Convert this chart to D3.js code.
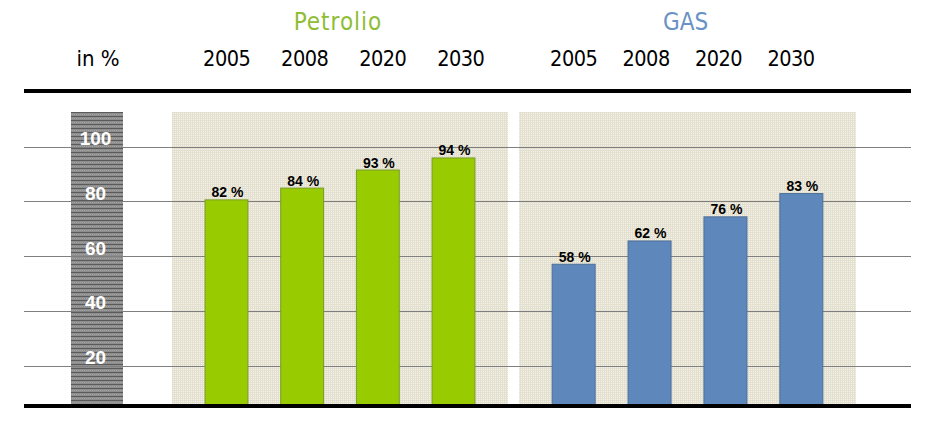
<!DOCTYPE html>
<html>
<head>
<meta charset="utf-8">
<script src="https://cdn.jsdelivr.net/npm/d3@7"></script>
<style>
  html, body { margin: 0; padding: 0; background: #fff; }
  svg { display: block; }
</style>
</head>
<body>
<svg id="chart" width="937" height="421"></svg>
<script>
// ---- data ----
const categories = ["2005", "2008", "2020", "2030"];
const groups = ["Petrolio", "GAS"];
// printed percentages
const petrolioLabels = [82, 84, 93, 94];
const gasLabels = [58, 62, 76, 83];
// bar heights as drawn against the axis
const petrolioBars = [80.7, 85, 91.6, 96];
const gasBars = [57.2, 65.7, 74.5, 83];
const yTicks = [20, 40, 60, 80, 100];
const axisTitle = "in %";

// ---- layout ----
const W = 937, H = 421;
const ruleX = [24, 911];
const plotTop = 112, plotBottom = 404;
const axisCol = [71, 123];
const panels = {
  Petrolio: { x: [172, 508], color: "#99cc00", stroke: "#789a2a", title: "#8fbd34", head: [226.7, 460.8] },
  GAS:      { x: [519, 856], color: "#5e88bc", stroke: "#4c6f98", title: "#6892c4", head: [573.7, 791] }
};
const seriesBars = { Petrolio: petrolioBars, GAS: gasBars };
const seriesLabels = { Petrolio: petrolioLabels, GAS: gasLabels };

const svg = d3.select("#chart");
const defs = svg.append("defs");

// panel texture: fine light grid
const pp = defs.append("pattern").attr("id", "panelPat")
  .attr("patternUnits", "userSpaceOnUse").attr("width", 2).attr("height", 2);
pp.append("rect").attr("width", 2).attr("height", 2).attr("fill", "#f4f2e9");
pp.append("rect").attr("x", 0).attr("y", 0).attr("width", 2).attr("height", 1).attr("fill", "#e3e0cf");
pp.append("rect").attr("x", 0).attr("y", 0).attr("width", 1).attr("height", 2).attr("fill", "#e3e0cf");

// axis column texture: grey with dark horizontal stripes
const ap = defs.append("pattern").attr("id", "axisPat")
  .attr("patternUnits", "userSpaceOnUse").attr("width", 2).attr("height", 4);
ap.append("rect").attr("width", 2).attr("height", 4).attr("fill", "#8e8e8e");
ap.append("rect").attr("y", 0).attr("width", 2).attr("height", 1).attr("fill", "#5a5a5a");
ap.append("rect").attr("x", 0).attr("y", 2).attr("width", 1).attr("height", 1).attr("fill", "#a2a2a2");

// y scale: gridlines 20..100, baseline slightly above zero
const y = d3.scaleLinear().domain([6, 100]).range([plotBottom, 146.5]);

// panels
groups.forEach(g => {
  const p = panels[g];
  svg.append("rect")
    .attr("x", p.x[0]).attr("y", plotTop)
    .attr("width", p.x[1] - p.x[0]).attr("height", plotBottom - plotTop)
    .attr("fill", "url(#panelPat)");
});

// axis column
svg.append("rect")
  .attr("x", axisCol[0]).attr("y", plotTop)
  .attr("width", axisCol[1] - axisCol[0]).attr("height", plotBottom - plotTop)
  .attr("fill", "url(#axisPat)");

// gridlines via d3 axis
const grid = svg.append("g").attr("transform", `translate(${ruleX[0]},0)`)
  .call(d3.axisLeft(y).tickValues(yTicks).tickSize(-(ruleX[1] - ruleX[0])).tickFormat(""));
grid.select(".domain").remove();
grid.selectAll(".tick line").attr("stroke", "#7f7f7f").attr("stroke-width", 1).attr("shape-rendering", "crispEdges");

// bars
groups.forEach(g => {
  const p = panels[g];
  const x = d3.scaleBand().domain(categories).range(p.x).paddingInner(0.42).paddingOuter(0.43);
  const bars = seriesBars[g], labels = seriesLabels[g];
  svg.append("g").selectAll("rect").data(categories).join("rect")
    .attr("x", d => x(d) + 0.5)
    .attr("y", (d, i) => y(bars[i]) + 0.5)
    .attr("width", x.bandwidth() - 1)
    .attr("height", (d, i) => plotBottom - y(bars[i]))
    .attr("fill", p.color)
    .attr("stroke", p.stroke).attr("stroke-width", 1);
  svg.append("g").selectAll("text").data(categories).join("text")
    .attr("x", d => x(d) + x.bandwidth() / 2 + 1)
    .attr("y", (d, i) => y(bars[i]) - 2)
    .attr("text-anchor", "middle")
    .attr("font-family", "Liberation Sans, Arial, sans-serif")
    .attr("font-weight", "bold").attr("font-size", 14).attr("fill", "#000")
    .text((d, i) => labels[i] + " %");

  // header: group title + years
  const hx = d3.scalePoint().domain(categories).range(p.head);
  svg.append("text")
    .attr("x", (p.x[0] + p.x[1]) / 2 - 2).attr("y", 30)
    .attr("text-anchor", "middle")
    .attr("font-family", "DejaVu Sans Condensed, DejaVu Sans, sans-serif")
    .attr("font-size", 24).attr("fill", p.title)
    .attr("letter-spacing", g === "Petrolio" ? 1 : 0)
    .text(g);
  svg.append("g").selectAll("text").data(categories).join("text")
    .attr("x", d => hx(d)).attr("y", 65.5)
    .attr("text-anchor", "middle")
    .attr("font-family", "DejaVu Sans Condensed, DejaVu Sans, sans-serif")
    .attr("font-size", 21.5).attr("letter-spacing", -0.5).attr("fill", "#000")
    .text(d => d);
});

// axis title
svg.append("text")
  .attr("x", (axisCol[0] + axisCol[1]) / 2 + 1).attr("y", 65.5)
  .attr("text-anchor", "middle")
  .attr("font-family", "DejaVu Sans Condensed, DejaVu Sans, sans-serif")
  .attr("font-size", 22).attr("fill", "#000")
  .text(axisTitle);

// tick labels in axis column
svg.append("g").selectAll("text").data(yTicks).join("text")
  .attr("x", (axisCol[0] + axisCol[1]) / 2 - 1.5)
  .attr("y", d => y(d) - 1.5)
  .attr("text-anchor", "middle")
  .attr("font-family", "Liberation Sans, Arial, sans-serif")
  .attr("font-weight", "bold").attr("font-size", 19).attr("fill", "#fff")
  .text(d => d);

// heavy rules
svg.append("rect").attr("x", ruleX[0]).attr("y", 89).attr("width", ruleX[1] - ruleX[0]).attr("height", 4).attr("fill", "#000");
svg.append("rect").attr("x", ruleX[0]).attr("y", plotBottom).attr("width", ruleX[1] - ruleX[0]).attr("height", 4).attr("fill", "#000");
</script>
</body>
</html>
